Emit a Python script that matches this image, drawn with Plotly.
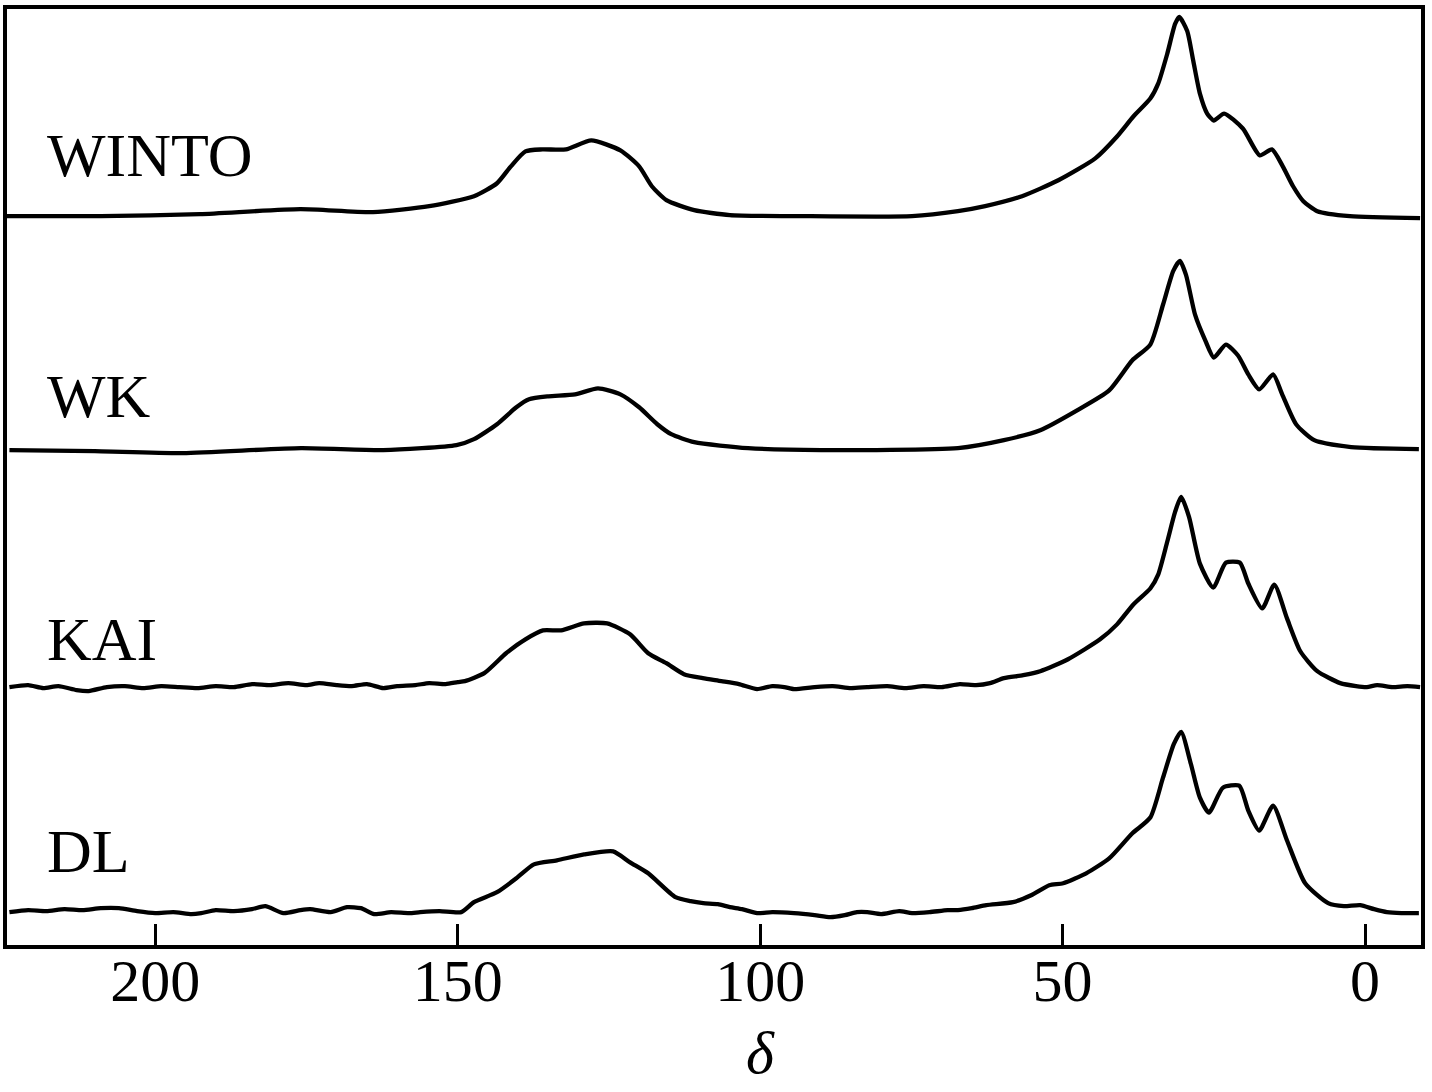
import plotly.graph_objects as go

# ---- data (chemical shift delta, intensity in arbitrary units) ----
labels = ["WINTO", "WK", "KAI", "DL"]

winto_d = [224.5, 209.0, 192.6, 176.0, 164.0, 154.7, 147.3, 143.5, 141.2, 138.8, 136.0, 132.1, 127.9,
           123.1, 120.0, 117.9, 115.5, 110.9, 105.0, 93.4, 74.9, 67.3, 62.8, 56.7, 50.7, 44.6, 41.0,
           38.3, 35.5, 34.2, 32.7, 31.4, 30.7, 29.4, 28.4, 27.3, 26.1, 25.0, 23.3, 20.2, 17.4, 15.4,
           13.6, 11.9, 10.2, 7.9, 2.5, -9.1]
winto_i = [0, 0, 2, 7, 4, 10, 20, 33, 50, 65, 67, 67, 76,
           66, 50, 30, 16, 6, 1, 0, 0, 5, 10, 20, 36, 58, 80,
           100, 118, 133, 163, 193, 200, 186, 156, 123, 103, 96, 103, 88, 61, 67,
           50, 30, 15, 5, 0, -2]

wk_d = [224.1, 210.0, 195.4, 175.9, 162.3, 150.2, 147.3, 143.5, 140.3, 138.2, 135.0, 130.6, 126.8,
        123.1, 120.0, 117.0, 114.7, 110.9, 102.0, 89.9, 67.3, 59.7, 53.7, 47.6, 42.3, 38.5, 35.5,
        33.4, 31.7, 30.6, 29.6, 28.1, 26.4, 25.0, 23.0, 21.0, 19.3, 17.5, 15.2, 13.7, 11.4, 8.4,
        2.3, -8.9]
wk_i = [1, 0, -2, 3, 1, 6, 12, 27, 44, 52, 55, 57, 63,
        57, 44, 27, 17, 9, 3, 1, 3, 11, 21, 41, 61, 91, 107,
        147, 181, 191, 177, 137, 111, 94, 107, 96, 77, 62, 77, 57, 27, 11,
        4, 2]

kai_d = [224.1, 221.0, 218.5, 216.0, 213.0, 211.0, 208.0, 205.0, 202.0, 199.0, 196.0, 193.0, 190.0,
         187.0, 184.0, 181.0, 178.0, 175.0, 172.9, 170.0, 167.5, 165.0, 162.3, 160.0, 157.0, 154.7,
         152.0, 150.0, 148.8, 145.6, 142.0, 138.8, 135.9, 132.9, 129.1, 125.3, 121.5, 118.5, 115.5,
         112.6, 109.5, 106.4, 103.5, 100.5, 98.0, 96.0, 94.4, 91.0, 88.0, 85.0, 82.3, 79.0, 76.0,
         73.0, 70.0, 67.0, 64.3, 62.0, 59.7, 56.5, 53.7, 49.1, 43.8, 41.0, 38.3, 35.5, 34.2, 32.7,
         31.4, 30.4, 29.1, 27.3, 25.1, 23.0, 20.7, 19.3, 17.0, 15.0, 12.9, 10.7, 7.9, 4.1, 1.5,
         -0.3, -2.0, -4.5, -7.0, -9.1]
kai_i = [0, 2, -1, 1, -3, -4, 0, 1, -1, 1, 0, -1, 1,
         0, 3, 2, 4, 2, 4, 2, 1, 3, -1, 1, 2, 4,
         3, 5, 6, 14, 34, 48, 57, 57, 64, 64, 53, 34, 24,
         13, 9, 6, 3, -2, 1, 0, -2, 0, 1, -1, 0, 1, -1,
         1, 0, 3, 2, 4, 9, 12, 16, 28, 48, 63, 83, 99, 113, 146,
         176, 191, 171, 124, 100, 125, 125, 104, 79, 103, 69, 36, 16, 4, 1,
         0, 2, 0, 1, 0]

dl_d = [224.1, 221.0, 218.0, 215.0, 212.0, 209.0, 206.0, 203.0, 200.0, 197.0, 194.0, 192.4, 190.0,
        187.0, 184.0, 181.8, 178.8, 176.0, 174.4, 171.0, 168.3, 166.0, 163.8, 161.0, 158.0, 156.2,
        153.0, 149.4, 147.3, 143.5, 140.3, 137.4, 133.6, 129.1, 124.3, 121.5, 118.5, 114.0, 111.5,
        109.4, 107.0, 105.0, 103.0, 100.5, 98.0, 94.4, 91.0, 88.4, 86.0, 84.0, 82.3, 80.0, 77.0,
        74.9, 72.0, 69.0, 67.3, 65.0, 62.6, 58.2, 55.2, 52.2, 49.9, 46.1, 42.3, 38.5, 35.5, 33.4,
        31.6, 30.4, 28.8, 27.3, 25.8, 23.5, 20.8, 19.3, 17.5, 15.2, 12.9, 9.9, 6.1, 3.5, 0.8,
        -1.5, -3.6, -6.0, -8.9]
dl_i = [0, 2, 1, 3, 2, 4, 4, 1, -1, 0, -2, -1, 2,
        1, 3, 6, -1, 2, 3, 0, 5, 4, -2, 0, -1, 0,
        1, 0, 10, 20, 34, 48, 52, 58, 61, 50, 39, 15, 11,
        9, 8, 5, 3, -1, 0, -1, -3, -5, -3, 0, 0, -2, 1,
        -1, 0, 2, 2, 4, 7, 10, 17, 27, 29, 39, 54, 79, 95, 135,
        169, 181, 149, 115, 100, 125, 127, 102, 82, 107, 72, 29, 9, 6, 7,
        3, 0, -1, -1]

x_ticks = [200, 150, 100, 50, 0]
x_title = "δ"

# ---- layout / style ----
offsets = [732, 496, 259, 33]
series = [(winto_d, winto_i), (wk_d, wk_i), (kai_d, kai_i), (dl_d, dl_i)]
label_y = [793, 551, 307, 94]
FONT = "Liberation Serif, Times New Roman, serif"

fig = go.Figure()
for (d, inten), off in zip(series, offsets):
    fig.add_trace(go.Scatter(
        x=d, y=[v + off for v in inten], mode="lines",
        line=dict(color="black", width=4.3, shape="spline", smoothing=0.6),
        showlegend=False, hoverinfo="skip"))

for lab, ly in zip(labels, label_y):
    fig.add_annotation(x=0.027, xref="paper", y=ly, yref="y", text=lab, showarrow=False,
                       xanchor="left", yanchor="middle",
                       font=dict(family=FONT, size=62, color="black"))

fig.add_annotation(x=100, xref="x", y=-0.115, yref="paper", text="<i>" + x_title + "</i>",
                   showarrow=False, xanchor="center", yanchor="middle",
                   font=dict(family=FONT, size=60, color="black"))

fig.update_layout(
    width=1432, height=1092,
    margin=dict(l=7, r=11, t=5, b=147),
    paper_bgcolor="white", plot_bgcolor="white",
    font=dict(family=FONT, size=60, color="black"),
)
fig.update_xaxes(range=[224.5, -9.25], tickvals=x_ticks, ticktext=[str(t) for t in x_ticks],
                 ticks="inside", ticklen=21, tickwidth=3, tickcolor="black",
                 ticklabelstandoff=-20,
                 showline=True, linewidth=3.5, linecolor="black", mirror=True,
                 showgrid=False, zeroline=False, tickfont=dict(family=FONT, size=60))
fig.update_yaxes(range=[0, 940], showticklabels=False, ticks="",
                 showline=True, linewidth=3.5, linecolor="black", mirror=True,
                 showgrid=False, zeroline=False)

fig.write_html("out.html", config={"displayModeBar": False},
               post_script="document.body.style.margin='0px';document.body.style.padding='0px';")
